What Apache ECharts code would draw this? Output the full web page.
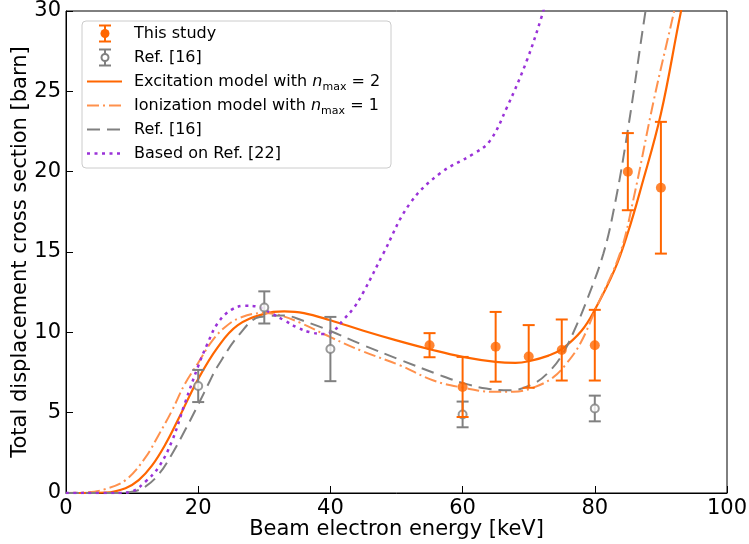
<!DOCTYPE html>
<html>
<head>
<meta charset="utf-8">
<script src="https://cdn.jsdelivr.net/npm/echarts@6/dist/echarts.min.js"></script>
<style>
  html, body { margin: 0; padding: 0; background: #fff; }
  #main { width: 749px; height: 544px; }
</style>
</head>
<body>
<div id="main"></div>
<script>
// measured points: [energy, value, error]
var studyEnergy = [55, 60, 65, 70, 75, 80, 85, 90];
var studyValue  = [9.2, 6.6, 9.1, 8.5, 8.9, 9.2, 20.0, 19.0];
var studyErr    = [0.75, 1.87, 2.17, 1.95, 1.9, 2.2, 2.4, 4.1];

var refEnergy = [20, 30, 40, 60, 80];
var refValue  = [6.66, 11.55, 8.96, 4.89, 5.26];
var refErr    = [1.0, 1.0, 2.0, 0.8, 0.8];

// model curves [energy, cross section]
var excitationCurve = [[0,0],[6,0.03],[9,0.3],[11,0.8],[13,1.7],[15,3.0],[17,4.6],[20,7.1],[23,9.1],[26,10.45],
  [30,11.15],[33,11.3],[36,11.2],[40,10.75],[45,10.1],[50,9.5],[55,8.95],[60,8.47],[65,8.16],[68,8.1],[70,8.2],
  [73,8.55],[75,8.95],[78,10.1],[80,11.4],[83,13.9],[85,16.2],[87,19.0],[90,23.6],[93,29.9],[94,31.6]];

var ionizationCurve = [[0,0],[3,0.03],[6,0.25],[9,0.8],[12,2.2],[14,3.6],[16,5.1],[18,6.8],[20,8.1],[22,9.4],
  [24,10.3],[26.3,10.9],[29.8,11.2],[32,11.1],[35.4,10.6],[40,9.7],[45,8.8],[50.5,7.95],[55.6,7.0],[60,6.56],
  [64.6,6.3],[67.7,6.3],[70.7,6.56],[73.7,7.2],[75.7,8.05],[77.8,9.3],[80.3,11.6],[83.8,14.9],[85.8,18.2],
  [88.9,24.4],[91.9,29.8],[93,31.8]];

var ref16Curve = [[0,0],[7,0],[10,0.08],[12,0.4],[14,1.15],[16,2.4],[18,3.9],[20,5.5],[21.8,7.0],[22.8,7.8],
  [26.3,9.9],[29.3,10.95],[32.9,11.05],[36,10.7],[39.9,10.1],[45,9.2],[50.5,8.3],[56.6,7.33],[60,6.85],
  [63.6,6.5],[67.2,6.4],[70.7,6.8],[73.2,7.6],[75.2,8.7],[77.3,10.5],[78.8,12.0],[81.3,14.9],[83,17.9],
  [85,22.6],[87.6,29.8],[88.5,32]];

var ref22Curve = [[0,0],[8,0],[10,0.1],[12,0.7],[14,1.6],[16,3.2],[18,5.6],[20,7.9],[21.3,9.2],[23,10.6],
  [25,11.4],[27,11.65],[29,11.6],[31,11.2],[33,10.75],[35,10.3],[37,10.0],[39,9.9],[40.5,10.1],[42,10.8],
  [43.5,11.5],[45,12.5],[48,14.9],[52,18.0],[56.6,19.9],[61.6,21.1],[64.1,21.9],[66.7,24.0],[69.7,26.9],
  [72,29.7],[72.5,30.5]];

var ORANGE = '#ff6600', LIGHT = '#ff914d', GRAY = '#808080', PURPLE = '#9a32d8';

function bars(xs, ys, es) {
  return xs.map(function (x, i) { return [x, ys[i] - es[i], ys[i] + es[i]]; });
}
function pts(xs, ys) {
  return xs.map(function (x, i) { return [x, ys[i]]; });
}
function errorBar(color) {
  return function (params, api) {
    var x = api.value(0);
    var top = api.coord([x, api.value(2)]);
    var bot = api.coord([x, api.value(1)]);
    var st = { stroke: color, lineWidth: 2 };
    return {
      type: 'group',
      children: [
        { type: 'line', shape: { x1: top[0], y1: top[1], x2: bot[0], y2: bot[1] }, style: st },
        { type: 'line', shape: { x1: top[0] - 6, y1: top[1], x2: top[0] + 6, y2: top[1] }, style: st },
        { type: 'line', shape: { x1: bot[0] - 6, y1: bot[1], x2: bot[0] + 6, y2: bot[1] }, style: st }
      ]
    };
  };
}
function curve(data, color, width, dash) {
  return {
    type: 'line', data: data, smooth: 0.4, showSymbol: false, symbol: 'none',
    lineStyle: { color: color, width: width, type: dash }, silent: true, z: 2
  };
}

// legend drawn by hand
var lx = 82, ly = 21, rowH = 24;
var legendItems = [];
legendItems.push({ type: 'rect', shape: { x: lx, y: ly, width: 309, height: 147, r: 4 },
  style: { fill: 'rgba(255,255,255,0.8)', stroke: '#cccccc', lineWidth: 1 } });
function rowY(i) { return ly + 12.5 + i * rowH; }
function legendBar(i, color, filled) {
  var y = rowY(i), st = { stroke: color, lineWidth: 2 };
  legendItems.push({ type: 'line', shape: { x1: 105, y1: y - 8, x2: 105, y2: y + 8 }, style: st });
  legendItems.push({ type: 'line', shape: { x1: 99, y1: y - 8, x2: 111, y2: y - 8 }, style: st });
  legendItems.push({ type: 'line', shape: { x1: 99, y1: y + 8, x2: 111, y2: y + 8 }, style: st });
  legendItems.push({ type: 'circle', shape: { cx: 105, cy: y, r: filled ? 4.5 : 3.5 },
    style: filled ? { fill: color } : { fill: '#fff', stroke: color, lineWidth: 2 } });
}
function legendLine(i, color, width, dash) {
  var y = rowY(i);
  legendItems.push({ type: 'line', shape: { x1: 87, y1: y, x2: 122, y2: y },
    style: { stroke: color, lineWidth: width, lineDash: dash } });
}
var rich = {
  t: { fontSize: 16, fontFamily: 'DejaVu Sans', color: '#000', lineHeight: 22, verticalAlign: 'middle' },
  i: { fontSize: 16, fontFamily: 'DejaVu Sans', fontStyle: 'italic', color: '#000', lineHeight: 22, verticalAlign: 'middle' },
  s: { fontSize: 11, fontFamily: 'DejaVu Sans', color: '#000', lineHeight: 22, verticalAlign: 'bottom' }
};
function legendText(i, txt) {
  legendItems.push({ type: 'text', x: 134, y: rowY(i),
    style: { text: txt, rich: rich, verticalAlign: 'middle', align: 'left' } });
}
legendBar(0, ORANGE, true);  legendText(0, '{t|This study}');
legendBar(1, GRAY, false);   legendText(1, '{t|Ref. [16]}');
legendLine(2, ORANGE, 2.2, null);          legendText(2, '{t|Excitation model with }{i|n}{s|max}{t| = 2}');
legendLine(3, LIGHT, 2, [12, 4, 2, 4]);    legendText(3, '{t|Ionization model with }{i|n}{s|max}{t| = 1}');
legendLine(4, GRAY, 2, [13, 7]);           legendText(4, '{t|Ref. [16]}');
legendLine(5, PURPLE, 2.5, [3, 4.5]);      legendText(5, '{t|Based on Ref. [22]}');

var chart = echarts.init(document.getElementById('main'));
chart.setOption({
  animation: false,
  backgroundColor: '#fff',
  textStyle: { fontFamily: 'DejaVu Sans' },
  grid: { left: 66, right: 22, top: 11, bottom: 51, show: true, borderColor: '#000', borderWidth: 1,
    outerBoundsMode: 'none', containLabel: false },
  xAxis: {
    type: 'value', min: 0, max: 100, interval: 20,
    name: 'Beam electron energy [keV]', nameLocation: 'middle', nameGap: 26, nameMoveOverlap: false,
    nameTextStyle: { fontSize: 21, color: '#000' },
    axisLine: { show: true, lineStyle: { color: '#000', width: 1 } },
    axisTick: { show: true, inside: true, length: 7, lineStyle: { color: '#000' } },
    axisLabel: { fontSize: 21, color: '#000', margin: 5 },
    splitLine: { show: false }
  },
  yAxis: {
    type: 'value', min: 0, max: 30, interval: 5,
    name: 'Total displacement cross section [barn]', nameLocation: 'middle', nameGap: 35, nameMoveOverlap: false,
    nameTextStyle: { fontSize: 21, color: '#000' },
    axisLine: { show: true, lineStyle: { color: '#000', width: 1 } },
    axisTick: { show: true, inside: true, length: 7, lineStyle: { color: '#000' } },
    axisLabel: { fontSize: 21, color: '#000', margin: 5 },
    splitLine: { show: false }
  },
  series: [
    curve(excitationCurve, ORANGE, 2.2, 'solid'),
    curve(ionizationCurve, LIGHT, 2, [12, 4, 2, 4]),
    curve(ref16Curve, GRAY, 2, [13, 7]),
    curve(ref22Curve, PURPLE, 2.5, [3, 4.5]),
    { type: 'custom', renderItem: errorBar(GRAY), data: bars(refEnergy, refValue, refErr),
      encode: { x: 0, y: [1, 2] }, z: 3, silent: true },
    { type: 'scatter', data: pts(refEnergy, refValue), symbol: 'circle', symbolSize: 8,
      itemStyle: { color: '#fff', borderColor: GRAY, borderWidth: 2 }, z: 4, silent: true },
    { type: 'custom', renderItem: errorBar(ORANGE), data: bars(studyEnergy, studyValue, studyErr),
      encode: { x: 0, y: [1, 2] }, z: 5, silent: true },
    { type: 'scatter', data: pts(studyEnergy, studyValue), symbol: 'circle', symbolSize: 10,
      itemStyle: { color: ORANGE }, z: 6, silent: true }
  ],
  graphic: { elements: legendItems }
});
</script>
</body>
</html>
